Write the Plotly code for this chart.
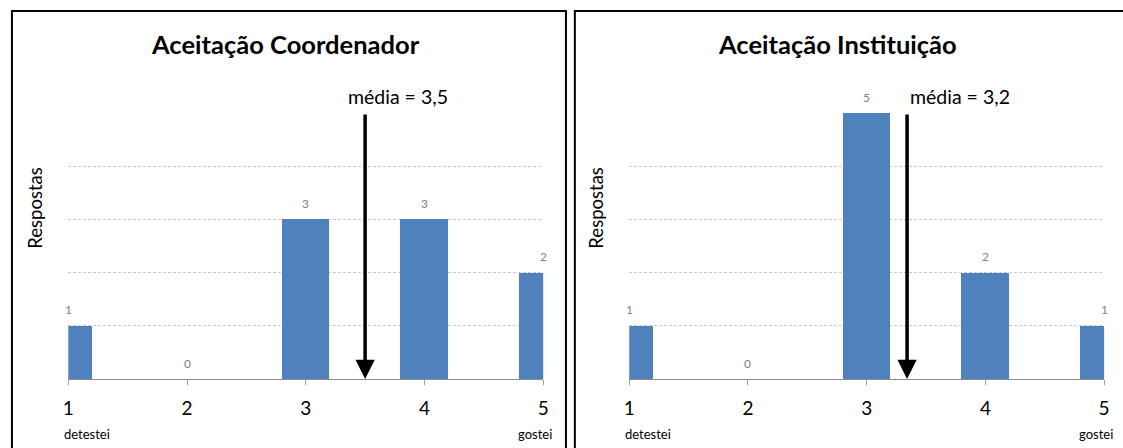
import plotly.graph_objects as go

# ---- data ----
categories = [1, 2, 3, 4, 5]
coord_values = [1, 0, 3, 3, 2]
inst_values = [1, 0, 5, 2, 1]
titles = ["Aceitação Coordenador", "Aceitação Instituição"]
mean_positions = [3.5, 3.34]
mean_labels = ["média = 3,5", "média = 3,2"]
low_label = "detestei"
high_label = "gostei"
y_title = "Respostas"

W, H = 1123, 448
FONT = "Lato"
BAR = "#4F81BD"

def px(x):
    return x / W

def py(y):
    return (H - y) / H

fig = go.Figure()

panels = [
    dict(vals=coord_values, x0=63, x1=543, xa="x", ya="y", box=(6, 566), title_x=283, ylab_x=29, text_shift=-19),
    dict(vals=inst_values, x0=630, x1=1110, xa="x2", ya="y2", box=(575, 1140), title_x=840, ylab_x=596, text_shift=1),
]

annotations = []
shapes = []
for i, p in enumerate(panels):
    fig.add_trace(go.Bar(
        x=categories, y=p["vals"], width=0.4, marker_color=BAR, marker_line_width=0,
        xaxis=p["xa"], yaxis=p["ya"], showlegend=False, hoverinfo="skip",
    ))
    sfx = "" if i == 0 else "2"
    axx = dict(
        domain=[px(p["x0"]), px(p["x1"])], range=[1, 5], tickvals=categories,
        ticktext=[str(c) for c in categories], showgrid=False, zeroline=False,
        showline=True, linecolor="#8c8c8c", linewidth=1,
        ticks="outside", ticklen=5, tickcolor="#a0a0a0", tickwidth=1,
        tickfont=dict(family=FONT, size=19, color="black"), ticklabelstandoff=7,
        anchor="y" + sfx, fixedrange=True,
    )
    axy = dict(
        domain=[py(379), py(113)], range=[0, 5], dtick=1, showgrid=True,
        gridcolor="#c8c8c8", griddash="3px,2px", gridwidth=1, zeroline=False,
        showticklabels=False, showline=False, anchor="x" + sfx, fixedrange=True,
    )
    fig.update_layout(**{"xaxis" + sfx: axx, "yaxis" + sfx: axy})

    xr, yr = p["xa"], p["ya"]
    # data labels
    for c, v in zip(categories, p["vals"]):
        annotations.append(dict(x=c, y=v, xref=xr, yref=yr, text=str(v), showarrow=False,
                                yshift=16, font=dict(family=FONT, size=12, color="#7f7f7f")))
    # mean arrow
    m = mean_positions[i]
    annotations.append(dict(x=m, y=0, ax=m, ay=5, xref=xr, yref=yr, axref=xr, ayref=yr,
                            text="", showarrow=True, arrowhead=2, arrowsize=1.1,
                            arrowwidth=3.5, arrowcolor="black", standoff=0))
    annotations.append(dict(x=m, y=5, xref=xr, yref=yr, text=mean_labels[i], showarrow=False,
                            xanchor="left", yanchor="middle", yshift=17, xshift=p["text_shift"],
                            font=dict(family=FONT, size=19.5, color="black")))
    # low / high labels
    annotations.append(dict(x=1, y=py(434), xref=xr, yref="paper", text=low_label, showarrow=False,
                            xanchor="left", yanchor="middle", xshift=-6,
                            font=dict(family=FONT, size=13, color="black")))
    annotations.append(dict(x=5, y=py(434), xref=xr, yref="paper", text=high_label, showarrow=False,
                            xanchor="right", yanchor="middle", xshift=11,
                            font=dict(family=FONT, size=13, color="black")))
    # title
    annotations.append(dict(x=px(p["title_x"]), y=py(44), xref="paper", yref="paper", text="<b>" + titles[i] + "</b>",
                            showarrow=False, xanchor="center", yanchor="middle",
                            font=dict(family=FONT, size=25.5, color="black")))
    # y title
    annotations.append(dict(x=px(p["ylab_x"]), y=py(208), xref="paper", yref="paper", text=y_title,
                            showarrow=False, textangle=-90, xanchor="center", yanchor="middle",
                            font=dict(family=FONT, size=18.5, color="black")))
    # border
    shapes.append(dict(type="rect", xref="paper", yref="paper",
                       x0=px(p["box"][0]), x1=px(p["box"][1]), y0=-0.1, y1=py(11),
                       line=dict(color="black", width=2), layer="above"))

fig.update_layout(
    width=W, height=H, margin=dict(l=0, r=0, t=0, b=0),
    paper_bgcolor="white", plot_bgcolor="white",
    annotations=annotations, shapes=shapes, bargap=0,
)

fig.write_html(
    "out.html",
    config={"displayModeBar": False},
    post_script="document.body.style.margin='0';document.body.style.overflow='hidden';",
)
